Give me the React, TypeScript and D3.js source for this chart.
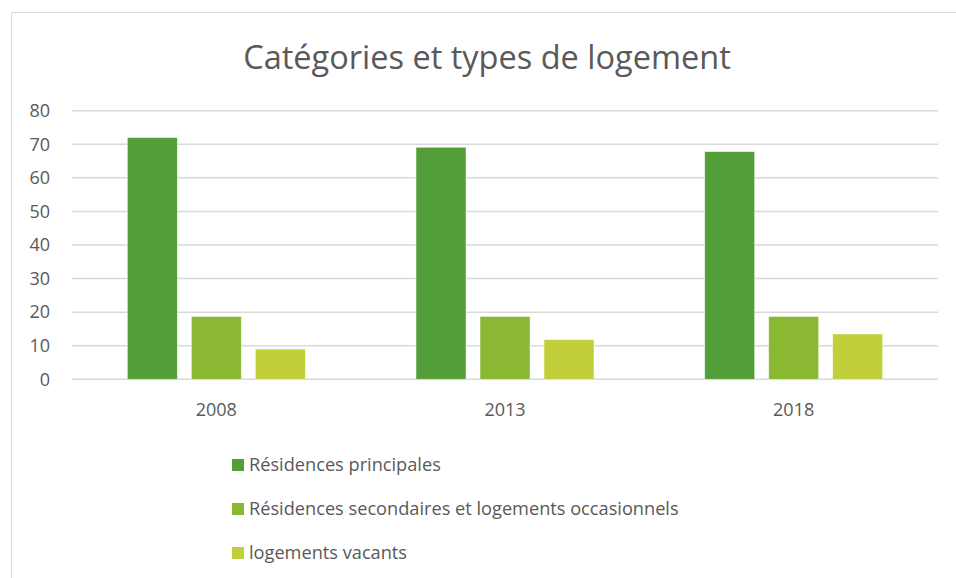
import React from 'react';
import * as d3 from 'd3';

const width = 956;
const height = 578;

const years = ['2008', '2013', '2018'];
const series = [
  'Résidences principales',
  'Résidences secondaires et logements occasionnels',
  'logements vacants',
];
const principales = [72, 69.1, 67.8];
const secondaires = [18.7, 18.7, 18.7];
const vacants = [9, 11.8, 13.5];
const yTicks = [0, 10, 20, 30, 40, 50, 60, 70, 80];
const colors = ['#549E39', '#8AB833', '#C0CF3A'];

const values = [principales, secondaires, vacants];

const font = '"Open Sans", sans-serif';
const textColor = '#595959';

const App = () => {
  const x0 = d3.scaleBand().domain(years).range([72, 938]);
  const x1 = d3
    .scaleBand()
    .domain(series)
    .range([0, x0.bandwidth()])
    .paddingInner(0.219)
    .paddingOuter(0.865);
  const y = d3.scaleLinear().domain([0, 80]).range([379.3, 110.7]);

  return (
    <svg
      width={width}
      height={height}
      style={{ position: 'absolute', left: 0, top: 0 }}
      fontFamily={font}
    >
      <rect x={0} y={0} width={width} height={height} fill="#fff" />
      <path d={`M11.5,${height} V12.5 H${width}`} fill="none" stroke="#D9D9D9" strokeWidth={1} />

      <text
        x={487}
        y={69}
        textAnchor="middle"
        fontSize={32.5}
        fill={textColor}
      >
        Catégories et types de logement
      </text>

      {yTicks.map(t => (
        <g key={t}>
          <line x1={72} x2={938} y1={y(t)} y2={y(t)} stroke="#D9D9D9" strokeWidth={1.5} />
          <text x={50} y={y(t)} dy="0.35em" textAnchor="end" fontSize={18} fill={textColor}>
            {t}
          </text>
        </g>
      ))}

      {years.map((yr, i) => (
        <g key={yr} transform={`translate(${x0(yr)},0)`}>
          {series.map((s, j) => (
            <rect
              key={s}
              x={x1(s)}
              y={y(values[j][i])}
              width={x1.bandwidth()}
              height={y(0) - y(values[j][i])}
              fill={colors[j]}
              stroke="#fff"
              strokeOpacity={0.6}
              strokeWidth={0.75}
            />
          ))}
          <text
            x={x0.bandwidth() / 2}
            y={410}
            dy="0.35em"
            textAnchor="middle"
            fontSize={18}
            fill={textColor}
          >
            {yr}
          </text>
        </g>
      ))}

      {series.map((s, j) => (
        <g key={s} transform={`translate(232,${465 + j * 44})`}>
          <rect x={0} y={-6} width={12} height={12} fill={colors[j]} />
          <text x={17} y={0} dy="0.35em" fontSize={18.2} fill={textColor}>
            {s}
          </text>
        </g>
      ))}
    </svg>
  );
};

export default App;
